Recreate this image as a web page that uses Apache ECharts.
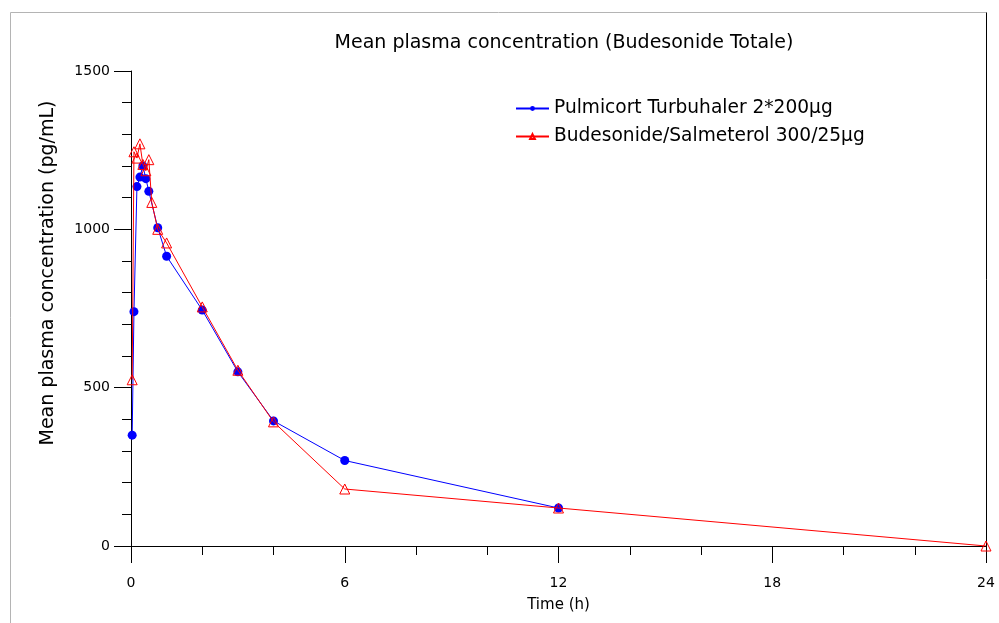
<!DOCTYPE html>
<html>
<head>
<meta charset="utf-8">
<script src="https://cdn.jsdelivr.net/npm/echarts@6/dist/echarts.min.js"></script>
<style>html,body{margin:0;padding:0;background:#fff;}#c{width:999px;height:623px;}</style>
</head>
<body>
<div id="c"></div>
<script>
var titleText = "Mean plasma concentration (Budesonide Totale)";
var yName = "Mean plasma concentration (pg/mL)";
var xName = "Time (h)";
var seriesNames = ["Pulmicort Turbuhaler 2*200µg", "Budesonide/Salmeterol 300/25µg"];
var xTicks = [0, 6, 12, 18, 24];
var yTicks = [0, 500, 1000, 1500];

var pulmTime = [0.033, 0.083, 0.167, 0.25, 0.333, 0.417, 0.5, 0.75, 1, 2, 3, 4, 6, 12];
var pulmConc = [350, 740, 1135, 1165, 1200, 1160, 1120, 1005, 915, 745, 550, 395, 270, 120];

var budTime = [0.033, 0.083, 0.167, 0.25, 0.333, 0.417, 0.5, 0.583, 0.75, 1, 2, 3, 4, 6, 12, 24];
var budConc = [525, 1245, 1225, 1270, 1205, 1185, 1220, 1085, 1000, 957, 755, 555, 392, 180, 120, 0];

function pairs(t, v) { return t.map(function (x, i) { return [x, v[i]]; }); }

var FONT = "DejaVu Sans";
var chart = echarts.init(document.getElementById('c'), null, {renderer: 'canvas'});
chart.setOption({
  animation: false,
  backgroundColor: '#fff',
  title: {
    text: titleText, left: 559, top: 29, textAlign: 'center',
    textStyle: {fontFamily: FONT, fontSize: 19, fontWeight: 'normal', color: '#000'}
  },
  legend: {
    orient: 'vertical', left: 510, top: 94, itemWidth: 33, itemHeight: 6, itemGap: 9,
    textStyle: {fontFamily: FONT, fontSize: 18.6, color: '#000'},
    data: seriesNames
  },
  grid: {left: 131, right: 13, top: 71, bottom: 77, containLabel: false},
  xAxis: {
    type: 'value', min: xTicks[0], max: xTicks[xTicks.length - 1], interval: 6,
    name: xName, nameLocation: 'middle', nameGap: 52,
    nameTextStyle: {fontFamily: FONT, fontSize: 15, color: '#000'},
    axisLine: {show: true, onZero: false, lineStyle: {color: '#000', width: 1}},
    axisTick: {show: true, length: 17, lineStyle: {color: '#000'}},
    minorTick: {show: true, splitNumber: 3, length: 9, lineStyle: {color: '#000'}},
    axisLabel: {margin: 30, fontFamily: FONT, fontSize: 14, color: '#000', formatter: function (v) { return String(v); }},
    splitLine: {show: false}
  },
  yAxis: {
    type: 'value', min: yTicks[0], max: yTicks[yTicks.length - 1], interval: 500,
    axisLine: {show: true, lineStyle: {color: '#000', width: 1}},
    axisTick: {show: true, length: 17, lineStyle: {color: '#000'}},
    minorTick: {show: true, splitNumber: 5, length: 9, lineStyle: {color: '#000'}},
    axisLabel: {margin: 21, fontFamily: FONT, fontSize: 14, color: '#000', formatter: function (v) { return String(v); }},
    splitLine: {show: false}
  },
  graphic: [
    {type: 'line', shape: {x1: 10.5, y1: 12.5, x2: 986.5, y2: 12.5}, style: {stroke: '#b4b4b4', lineWidth: 1}, silent: true},
    {type: 'line', shape: {x1: 10.5, y1: 12.5, x2: 10.5, y2: 623}, style: {stroke: '#b4b4b4', lineWidth: 1}, silent: true},
    {type: 'line', shape: {x1: 986.5, y1: 12.5, x2: 986.5, y2: 546}, style: {stroke: '#000', lineWidth: 1}, silent: true},
    {type: 'text', x: 48, y: 273, rotation: Math.PI / 2,
     style: {text: yName, fontFamily: FONT, fontSize: 19, fill: '#000', align: 'center', verticalAlign: 'middle'}}
  ],
  series: [
    {
      name: seriesNames[0], type: 'line', data: pairs(pulmTime, pulmConc),
      symbol: 'circle', symbolSize: 9, showAllSymbol: true,
      lineStyle: {color: '#0000ff', width: 1}, itemStyle: {color: '#0000ff'}, z: 2
    },
    {
      name: seriesNames[1], type: 'line', data: pairs(budTime, budConc),
      symbol: 'triangle', symbolSize: 10, showAllSymbol: true,
      lineStyle: {color: '#ff0000', width: 1},
      itemStyle: {color: 'rgba(255,255,255,0)', borderColor: '#ff0000', borderWidth: 1}, z: 3
    }
  ]
});
</script>
</body>
</html>
